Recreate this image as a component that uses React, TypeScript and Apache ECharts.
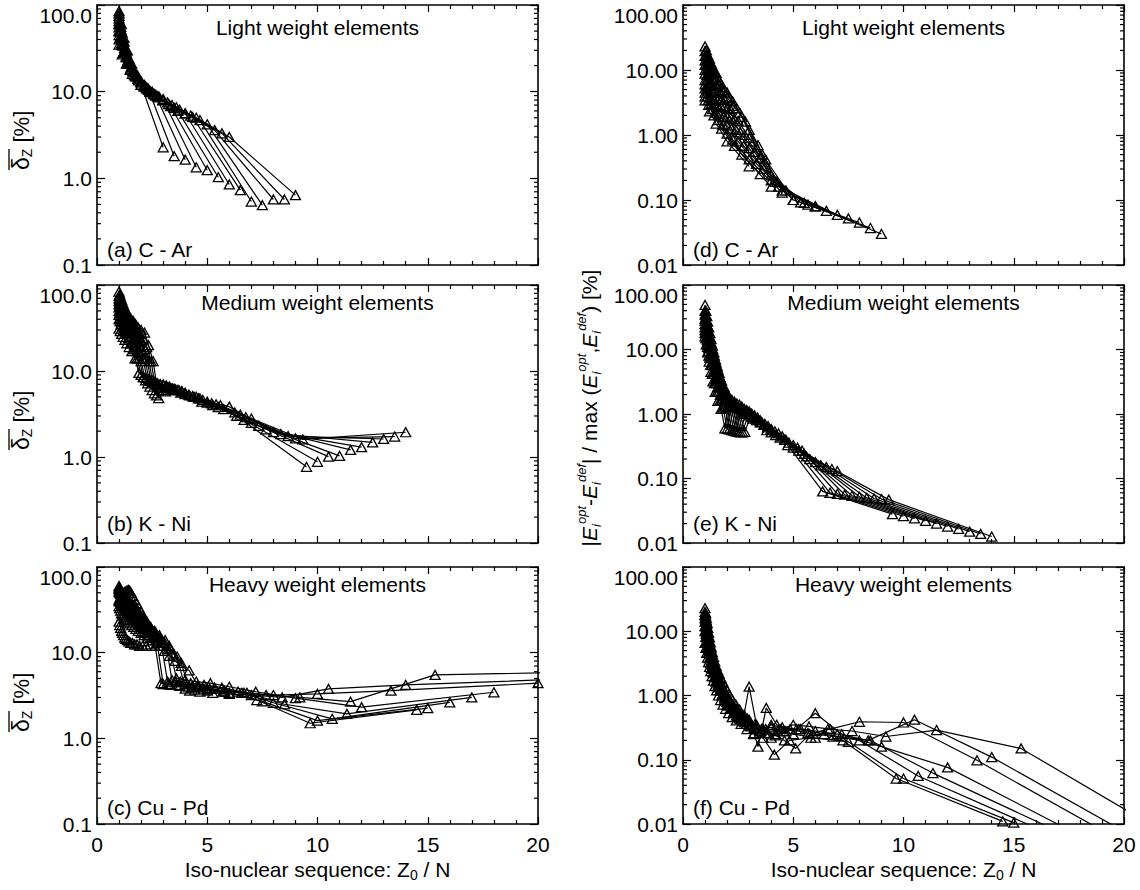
import React, { useEffect, useRef } from "react";
import * as echarts from "echarts";

const FONT = "'Liberation Sans', Arial, Helvetica, sans-serif";
const FS = 21;

// ---------- data ----------
// Element numbers Z0 of each iso-nuclear sequence; every series lists its
// values from the neutral atom (N = Z0) down to the He-like ion (N = 2).
const LIGHT_Z = [6, 7, 8, 9, 10, 11, 12, 13, 14, 15, 16, 17, 18]; // C - Ar
const MEDIUM_Z = [19, 20, 21, 22, 23, 24, 25, 26, 27, 28]; // K - Ni
const HEAVY_Z = [29, 30, 32, 34, 36, 40, 42, 46]; // Cu - Pd

// panel (a): mean deviation delta_Z [%]
const LIGHT_DELTA: number[][] = [
  [40, 28, 18, 12, 2.28],
  [50, 34, 23, 15, 10.5, 1.8],
  [35, 27, 21, 16, 12, 9.0, 1.64],
  [60, 42, 30, 22, 15.5, 11, 8.0, 1.34],
  [45, 36, 28, 22, 17, 13, 9.8, 6.8, 1.24],
  [85, 60, 42, 30, 21, 15.5, 11.5, 8.8, 6.0, 1.03],
  [70, 52, 38, 28, 21, 16, 12.8, 10, 8.0, 5.6, 0.85],
  [55, 44, 35, 28, 22, 17.5, 14, 11.5, 9.3, 7.2, 5.1, 0.73],
  [75, 56, 42, 32, 25, 19.5, 15.5, 13, 10.8, 8.8, 6.5, 4.7, 0.54],
  [65, 50, 40, 32, 26, 21, 17, 14.5, 12, 10, 8.2, 6.2, 4.2, 0.49],
  [80, 62, 48, 38, 30, 24, 19, 15.5, 13, 11, 9.2, 7.5, 5.6, 3.6, 0.57],
  [50, 42, 35, 29, 25, 21, 18, 15.5, 13.5, 11.5, 10, 8.6, 7.0, 5.3, 3.3, 0.57],
  [60, 50, 42, 35, 29, 25, 21, 17.5, 15, 13, 11, 9.5, 8.0, 6.6, 5.0, 3.0, 0.64],
];

// panel (d): relative energy difference [%]
const LIGHT_ERR: number[][] = [
  [3.4, 2.3, 1.5, 0.8, 0.33],
  [3.9, 2.9, 2.0, 1.25, 0.68, 0.25],
  [4.5, 3.4, 2.5, 1.7, 1.05, 0.5, 0.16],
  [5.2, 4.0, 3.0, 2.2, 1.45, 0.85, 0.42, 0.13],
  [6.0, 4.8, 3.7, 2.9, 2.1, 1.4, 0.8, 0.36, 0.1],
  [7.0, 5.6, 4.5, 3.5, 2.7, 1.9, 1.25, 0.68, 0.3, 0.09],
  [8.8, 7.2, 5.9, 4.8, 3.7, 2.8, 1.9, 1.2, 0.63, 0.2, 0.08],
  [10, 8.4, 7.0, 5.8, 4.7, 3.6, 2.7, 1.85, 1.1, 0.55, 0.16, 0.068],
  [12, 10, 8.4, 7.0, 5.7, 4.6, 3.5, 2.6, 1.75, 1.0, 0.45, 0.14, 0.059],
  [14, 12, 10, 8.5, 7.0, 5.7, 4.5, 3.5, 2.5, 1.65, 0.9, 0.42, 0.1, 0.052],
  [16.5, 14, 12, 10.3, 8.8, 7.4, 6.1, 4.9, 3.8, 2.8, 1.9, 0.8, 0.24, 0.092, 0.045],
  [19.5, 17, 14.5, 12.5, 10.8, 9.2, 7.7, 6.2, 4.9, 3.7, 2.6, 1.6, 0.7, 0.19, 0.085, 0.037],
  [23, 20, 17, 15, 12.5, 10.5, 9, 7, 5.5, 4.5, 3.3, 2.2, 1.2, 0.5, 0.14, 0.08, 0.03],
];

// panel (b)
const MEDIUM_DELTA: number[][] = [
  [31, 29, 27, 25, 23, 21, 19, 17, 14, 9.5, 8.5, 8.0, 7.2, 6.5, 5.6, 4.4, 3.0, 0.77],
  [45, 41, 37, 33, 30, 27, 24, 21, 18, 14, 9.0, 8.3, 7.8, 7.0, 6.3, 5.4, 4.3, 2.7, 0.88],
  [55, 49, 44, 39, 35, 31, 28, 25, 22, 18, 14, 8.5, 8.0, 7.5, 7.0, 6.2, 5.2, 4.0, 2.5, 1.01],
  [40, 38, 35, 33, 31, 29, 27, 25, 22, 20, 17, 13, 7.8, 7.6, 7.2, 6.8, 6.0, 5.0, 3.8, 2.3, 1.03],
  [65, 59, 53, 48, 44, 40, 36, 33, 30, 27, 23, 19, 14, 7.2, 7.3, 7.0, 6.6, 5.8, 4.8, 3.6, 2.1, 1.21],
  [50, 47, 44, 41, 38, 35, 33, 31, 29, 27, 25, 22, 18, 14, 6.6, 7.0, 6.8, 6.3, 5.5, 4.6, 3.85, 1.95, 1.3],
  [75, 68, 62, 57, 52, 48, 44, 40, 37, 34, 31, 28, 25, 20, 14, 6.0, 6.6, 6.6, 6.1, 5.3, 4.4, 3.3, 1.85, 1.48],
  [60, 56, 52, 48, 45, 42, 39, 37, 35, 33, 31, 29, 26, 23, 18, 13, 5.5, 6.3, 6.4, 6.0, 5.1, 4.2, 3.1, 1.75, 1.62],
  [70, 65, 60, 56, 52, 49, 46, 43, 40, 38, 36, 33, 30, 27, 24, 19, 13, 5.2, 6.0, 6.2, 5.8, 5.0, 4.1, 2.9, 1.65, 1.73],
  [84, 78, 72, 67, 62, 57, 53, 49, 45, 42, 40, 38, 35, 32, 30, 28, 20, 13, 4.85, 5.8, 6.0, 5.6, 4.8, 4.0, 2.8, 1.6, 1.94],
];

// panel (e)
const MEDIUM_ERR: number[][] = [
  [16, 12, 9, 6.5, 4.5, 3.2, 2.2, 1.6, 1.2, 0.6, 1.7, 1.3, 1.05, 0.85, 0.56, 0.33, 0.063, 0.028],
  [20, 15, 11, 8, 5.8, 4.2, 3.0, 2.2, 1.6, 1.25, 0.59, 1.65, 1.25, 1.0, 0.8, 0.52, 0.3, 0.06, 0.026],
  [25, 19, 14, 10.5, 7.8, 5.7, 4.2, 3.0, 2.2, 1.65, 1.3, 0.58, 1.55, 1.2, 0.95, 0.74, 0.47, 0.27, 0.058, 0.024],
  [18, 15, 12, 9.5, 7.5, 5.8, 4.5, 3.4, 2.6, 2.0, 1.6, 1.3, 0.56, 1.45, 1.15, 0.9, 0.68, 0.43, 0.24, 0.056, 0.022],
  [30, 24, 19, 15, 11.5, 8.8, 6.7, 5.0, 3.8, 2.8, 2.1, 1.7, 1.35, 0.55, 1.4, 1.1, 0.86, 0.62, 0.4, 0.2, 0.054, 0.02],
  [22, 19, 16, 13.5, 11, 9, 7.3, 5.8, 4.5, 3.5, 2.7, 2.1, 1.7, 1.35, 0.54, 1.3, 1.05, 0.8, 0.58, 0.36, 0.18, 0.052, 0.018],
  [35, 29, 24, 20, 16, 13, 10.5, 8.2, 6.3, 4.8, 3.6, 2.7, 2.1, 1.7, 1.35, 0.53, 1.2, 1.0, 0.75, 0.54, 0.33, 0.16, 0.05, 0.0165],
  [28, 24, 21, 18, 15, 12.5, 10.5, 8.5, 6.8, 5.3, 4.0, 3.0, 2.3, 1.8, 1.5, 1.3, 0.52, 1.15, 0.95, 0.7, 0.5, 0.3, 0.15, 0.049, 0.015],
  [40, 34, 28, 23, 19, 15.5, 12.5, 10, 8, 6.3, 4.9, 3.7, 2.8, 2.2, 1.75, 1.45, 1.25, 0.52, 1.1, 0.88, 0.65, 0.45, 0.27, 0.14, 0.048, 0.0138],
  [49, 40, 33, 27, 22, 18, 14.5, 11.5, 9, 7, 5.5, 4.3, 3.3, 2.6, 2.1, 1.7, 1.45, 1.2, 0.53, 1.0, 0.8, 0.58, 0.4, 0.22, 0.13, 0.047, 0.0126],
];

// panel (c)
const HEAVY_DELTA: number[][] = [
  [23, 21, 19.5, 18, 17, 16, 15, 14.5, 14, 13.5, 13, 13, 12.5, 12.5, 12, 12, 12, 12.5, 12, 4.4, 4.3, 4.2, 4.0, 3.8, 3.5, 2.8, 1.5, 2.15],
  [35, 33, 31, 29, 28, 27, 26, 25, 24, 23, 22, 21, 20, 19, 18, 17, 16, 15, 14, 13, 4.3, 4.2, 4.1, 3.9, 3.7, 3.4, 2.7, 1.61, 2.25],
  [55, 52, 49, 46, 43, 41, 39, 37, 35, 33, 31, 29, 27, 25, 23, 21, 19, 17.5, 16, 15, 14, 13, 4.6, 4.5, 4.3, 4.1, 3.9, 3.5, 2.6, 1.69, 2.63],
  [40, 41, 42, 44, 46, 48, 50, 51, 52, 53, 54, 53, 50, 46, 42, 38, 34, 30, 26, 23, 20, 18, 16, 14, 4.8, 4.6, 4.4, 4.2, 3.9, 3.4, 2.5, 1.93, 3.0],
  [60, 57, 54, 51, 49, 47, 45, 43, 41, 39, 37, 35, 33, 31, 29, 27, 25, 23, 21, 19, 17.5, 16, 15, 14, 13, 12, 5.0, 4.8, 4.6, 4.4, 4.0, 3.5, 2.94, 2.31, 3.45],
  [42, 41, 40, 39, 38, 37, 36, 35, 34, 33, 32, 31, 30, 29, 28, 27, 26, 25, 24, 23, 22, 21, 20, 19, 18, 17, 15, 13, 11, 9, 3.8, 3.7, 3.6, 3.5, 3.4, 3.2, 3.3, 3.6, 4.4],
  [52, 51, 50, 49, 48, 47, 46, 45, 44, 43, 42, 41, 40, 39, 38, 37, 36, 35, 33, 31, 29, 27, 25, 23, 21, 19, 17, 15, 13, 11, 9.5, 7.6, 3.6, 3.5, 3.4, 3.3, 3.2, 3.0, 3.77, 4.2, 4.9],
  [58, 56, 54, 52, 50, 48, 46, 44, 43, 42, 41, 40, 39, 38, 37, 36, 35, 34, 33, 32, 31, 30, 28, 26, 24, 22, 20, 18, 16, 14, 12, 10.5, 9.2, 8, 7, 6.2, 4.0, 3.8, 3.6, 3.4, 3.2, 3.0, 2.68, 5.5, 6.0],
];

// panel (f)
const HEAVY_ERR: number[][] = [
  [6.6, 5.5, 4.6, 3.9, 3.3, 2.8, 2.4, 2.0, 1.7, 1.4, 1.2, 1.0, 0.85, 0.72, 0.62, 0.53, 0.46, 0.41, 0.36, 0.3, 0.26, 0.22, 0.12, 0.2, 0.22, 0.2, 0.051, 0.011],
  [10, 8.2, 6.8, 5.6, 4.6, 3.8, 3.2, 2.7, 2.3, 1.95, 1.65, 1.4, 1.2, 1.0, 0.85, 0.72, 0.62, 0.54, 0.47, 0.42, 1.37, 0.35, 0.3, 0.28, 0.25, 0.22, 0.19, 0.051, 0.0105],
  [14, 12, 10, 8.3, 6.9, 5.8, 4.8, 4.0, 3.4, 2.9, 2.5, 2.1, 1.8, 1.55, 1.3, 1.1, 0.95, 0.8, 0.68, 0.58, 0.5, 0.44, 0.25, 0.3, 0.32, 0.28, 0.3, 0.25, 0.2, 0.056, 0.0087],
  [18, 15, 12.5, 10.5, 8.8, 7.4, 6.2, 5.2, 4.4, 3.7, 3.1, 2.6, 2.2, 1.9, 1.6, 1.35, 1.15, 0.98, 0.83, 0.7, 0.6, 0.5, 0.42, 0.36, 0.16, 0.64, 0.35, 0.3, 0.26, 0.23, 0.2, 0.062, 0.0077],
  [22.8, 19, 16, 13.5, 11.3, 9.5, 8.0, 6.7, 5.6, 4.7, 4.0, 3.4, 2.9, 2.5, 2.2, 1.9, 1.65, 1.4, 1.2, 1.0, 0.85, 0.72, 0.6, 0.5, 0.42, 0.36, 0.3, 0.35, 0.32, 0.3, 0.53, 0.25, 0.16, 0.076, 0.0066],
  [12, 10.5, 9.2, 8.0, 7.0, 6.1, 5.3, 4.6, 4.0, 3.5, 3.0, 2.6, 2.3, 2.0, 1.75, 1.55, 1.35, 1.2, 1.05, 0.92, 0.8, 0.7, 0.62, 0.55, 0.49, 0.44, 0.4, 0.36, 0.33, 0.3, 0.22, 0.3, 0.35, 0.33, 0.3, 0.39, 0.38, 0.098, 0.0051],
  [16, 14, 12, 10.5, 9.0, 7.8, 6.8, 5.9, 5.1, 4.4, 3.8, 3.3, 2.9, 2.5, 2.2, 1.9, 1.65, 1.45, 1.25, 1.1, 0.95, 0.82, 0.72, 0.63, 0.55, 0.48, 0.43, 0.38, 0.34, 0.31, 0.28, 0.26, 0.25, 0.28, 0.3, 0.28, 0.25, 0.2, 0.42, 0.11, 0.0049],
  [20, 17.5, 15, 13, 11.2, 9.6, 8.3, 7.1, 6.1, 5.3, 4.6, 4.0, 3.5, 3.1, 2.7, 2.4, 2.1, 1.85, 1.6, 1.4, 1.2, 1.05, 0.92, 0.8, 0.7, 0.62, 0.55, 0.49, 0.44, 0.4, 0.36, 0.33, 0.3, 0.28, 0.26, 0.24, 0.2, 0.15, 0.25, 0.3, 0.28, 0.23, 0.29, 0.15, 0.0043],
];

// axis ticks
const X_MIN = 0;
const X_MAX = 20;
const X_INTERVAL = 5;
const LOG_MINOR_MANTISSAS = [2, 3, 4, 5, 6, 7, 8, 9];

// ---------- layout ----------
const COL_LEFT = [97, 683];
const COL_WIDTH = 441;
const ROW_TOP = [5, 285, 567];
const ROW_HEIGHT = [260, 258, 257];
const TITLE_Y = [27, 302, 584];
const LETTER_Y = [249, 523, 807];
const LEFT_YLABEL_START = [170, 450, 732];

type Panel = {
  letter: string;
  title: string;
  zs: number[];
  values: number[][];
  yMin: number;
  yMax: number;
  digits: number;
};

const PANELS: Panel[] = [
  { letter: "(a) C - Ar", title: "Light weight elements", zs: LIGHT_Z, values: LIGHT_DELTA, yMin: 0.1, yMax: 100, digits: 1 },
  { letter: "(b) K - Ni", title: "Medium weight elements", zs: MEDIUM_Z, values: MEDIUM_DELTA, yMin: 0.1, yMax: 100, digits: 1 },
  { letter: "(c) Cu - Pd", title: "Heavy weight elements", zs: HEAVY_Z, values: HEAVY_DELTA, yMin: 0.1, yMax: 100, digits: 1 },
  { letter: "(d) C - Ar", title: "Light weight elements", zs: LIGHT_Z, values: LIGHT_ERR, yMin: 0.01, yMax: 100, digits: 2 },
  { letter: "(e) K - Ni", title: "Medium weight elements", zs: MEDIUM_Z, values: MEDIUM_ERR, yMin: 0.01, yMax: 100, digits: 2 },
  { letter: "(f) Cu - Pd", title: "Heavy weight elements", zs: HEAVY_Z, values: HEAVY_ERR, yMin: 0.01, yMax: 100, digits: 2 },
];

function buildOption(): any {
  const grid: any[] = [];
  const xAxis: any[] = [];
  const yAxis: any[] = [];
  const series: any[] = [];
  const graphic: any[] = [];

  const axisLine = { show: true, onZero: false, lineStyle: { color: "#000", width: 1.6 } };
  const tickStyle = { color: "#000", width: 1.2 };

  PANELS.forEach((p, i) => {
    const col = Math.floor(i / 3);
    const row = i % 3;
    const left = COL_LEFT[col];
    const top = ROW_TOP[row];
    const height = ROW_HEIGHT[row];
    const bottomRow = row === 2;

    grid.push({ left, top, width: COL_WIDTH, height, containLabel: false, outerBoundsMode: "none" });

    const xBase = {
      gridIndex: i,
      type: "value",
      min: X_MIN,
      max: X_MAX,
      interval: X_INTERVAL,
      axisLine,
      axisTick: { show: true, inside: true, length: 7, lineStyle: tickStyle },
      minorTick: { show: true, splitNumber: 5, length: 4, lineStyle: tickStyle },
      splitLine: { show: false },
      minorSplitLine: { show: false },
    };
    xAxis.push({
      ...xBase,
      position: "bottom",
      axisLabel: {
        show: bottomRow,
        margin: 10,
        fontSize: FS,
        fontFamily: FONT,
        color: "#000",
        showMinLabel: true,
        showMaxLabel: true,
      },
      name: bottomRow ? "Iso-nuclear sequence: Z{sub|0} / N" : "",
      nameLocation: "middle",
      nameGap: 33,
      nameTextStyle: {
        fontSize: FS,
        fontFamily: FONT,
        color: "#000",
        lineHeight: 25,
        rich: {
          sub: { fontSize: 14, fontFamily: FONT, color: "#000", lineHeight: 14, verticalAlign: "bottom" },
        },
      },
    });
    xAxis.push({ ...xBase, position: "top", axisLabel: { show: false } });

    const yBase = {
      gridIndex: i,
      type: "log",
      logBase: 10,
      min: p.yMin,
      max: p.yMax,
      axisLine,
      axisTick: { show: true, inside: true, length: 8, lineStyle: tickStyle },
      splitLine: { show: false },
    };
    yAxis.push({
      ...yBase,
      position: "left",
      axisLabel: {
        show: true,
        margin: 5,
        fontSize: FS,
        fontFamily: FONT,
        color: "#000",
        showMinLabel: true,
        showMaxLabel: true,
        verticalAlignMaxLabel: "top",
        formatter: (v: number) => Number(v).toFixed(p.digits),
      },
    });
    yAxis.push({ ...yBase, position: "right", axisLabel: { show: false } });

    const xi = 2 * i;
    const yi = 2 * i;

    p.values.forEach((vals, k) => {
      const Z = p.zs[k];
      const data = vals.map((y, j) => {
        const N = 2 + (vals.length - 1 - j);
        return [Z / N, y];
      });
      series.push({
        type: "line",
        name: `Z=${Z}`,
        xAxisIndex: xi,
        yAxisIndex: yi,
        data,
        symbol: "triangle",
        symbolSize: [10, 9],
        showSymbol: true,
        showAllSymbol: true,
        clip: true,
        silent: true,
        emphasis: { disabled: true },
        lineStyle: { color: "#000", width: 1.2 },
        itemStyle: { color: "rgba(0,0,0,0)", borderColor: "#000", borderWidth: 1.3 },
        z: 2,
      });
    });

    // minor log ticks on the left and right frame
    const minorData: number[][] = [];
    const e0 = Math.round(Math.log10(p.yMin));
    const e1 = Math.round(Math.log10(p.yMax));
    for (let e = e0; e < e1; e++) {
      for (const m of LOG_MINOR_MANTISSAS) minorData.push([X_MIN, m * Math.pow(10, e)]);
    }
    series.push({
      type: "custom",
      xAxisIndex: xi,
      yAxisIndex: yi,
      silent: true,
      data: minorData,
      z: 3,
      renderItem: (_params: any, api: any) => {
        const v = api.value(1);
        const l = api.coord([X_MIN, v]);
        const r = api.coord([X_MAX, v]);
        return {
          type: "group",
          children: [
            { type: "line", shape: { x1: l[0], y1: l[1], x2: l[0] + 4, y2: l[1] }, style: { stroke: "#000", lineWidth: 1.2 } },
            { type: "line", shape: { x1: r[0] - 4, y1: r[1], x2: r[0], y2: r[1] }, style: { stroke: "#000", lineWidth: 1.2 } },
          ],
        };
      },
    });

    graphic.push({
      type: "text",
      x: left + COL_WIDTH / 2,
      y: TITLE_Y[row],
      silent: true,
      style: { text: p.title, fontSize: FS, fontFamily: FONT, fill: "#000", align: "center", verticalAlign: "middle" },
    });
    graphic.push({
      type: "text",
      x: left + 10,
      y: LETTER_Y[row],
      silent: true,
      style: { text: p.letter, fontSize: FS, fontFamily: FONT, fill: "#000", align: "left", verticalAlign: "middle" },
    });

    if (col === 0) {
      graphic.push({
        type: "group",
        x: 21,
        y: LEFT_YLABEL_START[row],
        rotation: Math.PI / 2,
        silent: true,
        children: [
          {
            type: "text",
            x: 0,
            y: 0,
            style: {
              text: "{d|δ}{s|Z} [%]",
              fontSize: 22,
              fontFamily: FONT,
              fill: "#000",
              align: "left",
              verticalAlign: "middle",
              lineHeight: 26,
              rich: {
                d: { fontSize: 23, fontFamily: FONT, fill: "#000", lineHeight: 26 },
                s: { fontSize: 14, fontFamily: FONT, fill: "#000", lineHeight: 14, verticalAlign: "bottom" },
              },
            },
          },
          { type: "line", shape: { x1: 0, y1: -12, x2: 21, y2: -12 }, style: { stroke: "#000", lineWidth: 1.3 } },
        ],
      });
    }
  });

  // right-hand y axis title
  graphic.push({
    type: "text",
    x: 589,
    y: 408,
    rotation: Math.PI / 2,
    silent: true,
    style: {
      text:
        "|{e|E}{b|i}{p|opt}-{e|E}{b|i}{p|def}| / max ({e|E}{b|i}{p|opt},{e|E}{b|i}{p|def}) [%]",
      fontSize: 21,
      fontFamily: FONT,
      fill: "#000",
      align: "center",
      verticalAlign: "middle",
      lineHeight: 28,
      rich: {
        e: { fontSize: 21, fontFamily: FONT, fontStyle: "italic", fill: "#000", lineHeight: 28 },
        b: { fontSize: 13, fontFamily: FONT, fontStyle: "italic", fill: "#000", lineHeight: 13, verticalAlign: "bottom" },
        p: { fontSize: 13, fontFamily: FONT, fontStyle: "italic", fill: "#000", lineHeight: 13, verticalAlign: "top" },
      },
    },
  });

  return {
    animation: false,
    backgroundColor: "#fff",
    textStyle: { fontFamily: FONT },
    grid,
    xAxis,
    yAxis,
    series,
    graphic,
  };
}

export default function App() {
  const ref = useRef<HTMLDivElement>(null);
  useEffect(() => {
    document.body.style.margin = "0";
    const chart = echarts.init(ref.current as HTMLDivElement, null, { renderer: "svg" });
    chart.setOption(buildOption());
    return () => {
      chart.dispose();
    };
  }, []);
  return <div ref={ref} style={{ width: 1140, height: 890, background: "#fff" }} />;
}
